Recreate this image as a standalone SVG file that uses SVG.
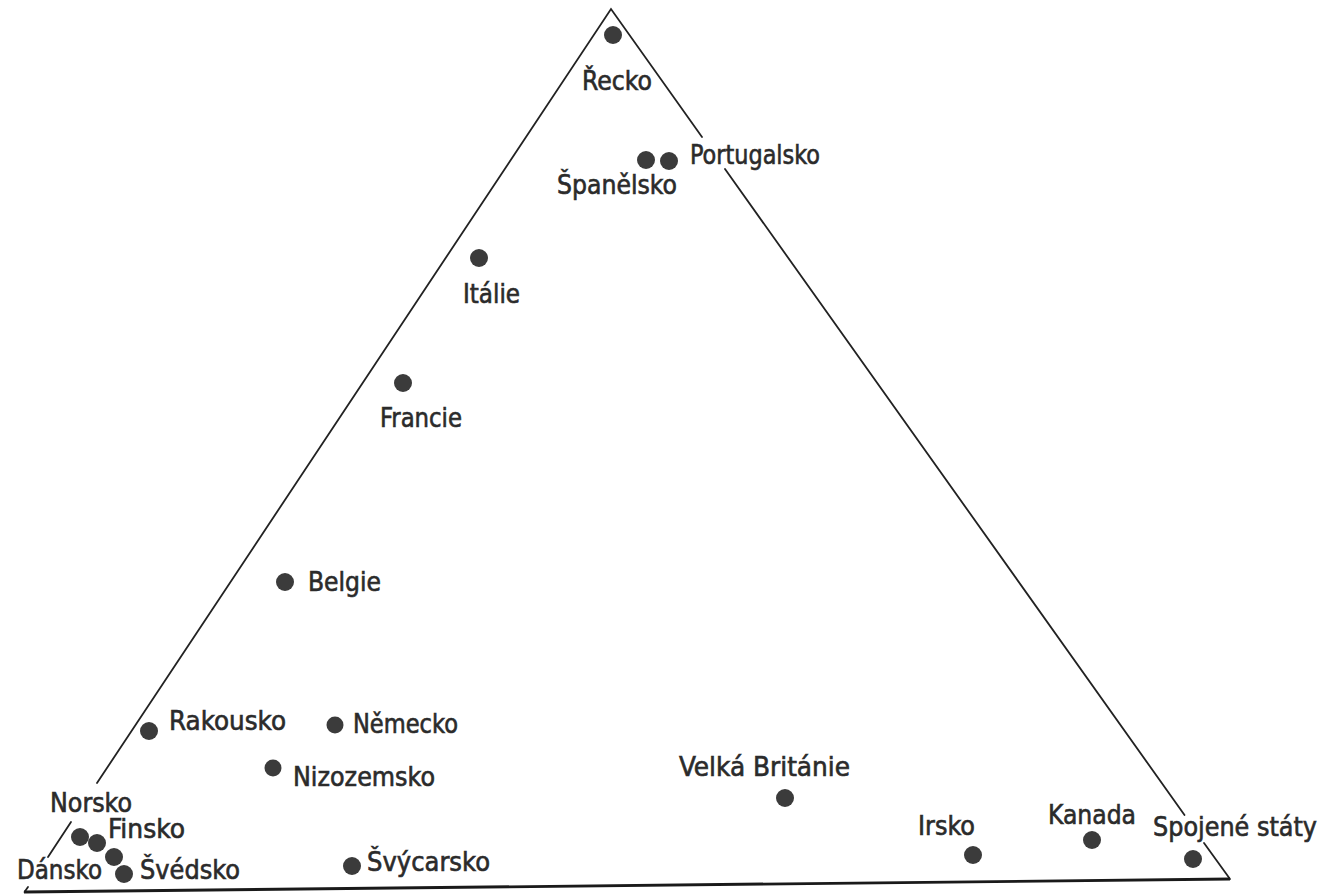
<svg xmlns="http://www.w3.org/2000/svg" width="1339" height="895" viewBox="0 0 1339 895">
<style>
.edge{stroke:#222;stroke-width:1.8;fill:none;stroke-linecap:round}
.base{stroke:#1a1a1a;stroke-width:2.8;fill:none}
.dot{fill:#3b3b3b}
.lbl{font-family:"DejaVu Sans Condensed","DejaVu Sans",sans-serif;font-stretch:condensed;font-size:27px;fill:#2b2b2b;stroke:#2b2b2b;stroke-width:0.6}
</style>
<rect width="1339" height="895" fill="#ffffff"/>
<g id="triangle">
<polyline class="edge" points="97,783 611,9 702,137"/>
<line class="edge" x1="71" y1="822" x2="48" y2="857"/>
<line class="edge" x1="28" y1="887" x2="24.5" y2="892"/>
<line class="edge" x1="725" y1="169" x2="1184.5" y2="815"/>
<line class="edge" x1="1204" y1="843" x2="1230" y2="879"/>
<line class="base" x1="24" y1="892" x2="1230" y2="879"/>
</g>
<g id="recko"><circle class="dot" cx="613" cy="35" r="9"/><text class="lbl" x="582" y="90" textLength="70" lengthAdjust="spacingAndGlyphs">Řecko</text></g>
<g id="spanelsko"><circle class="dot" cx="646" cy="160" r="9"/><text class="lbl" x="557" y="194" textLength="120" lengthAdjust="spacingAndGlyphs">Španělsko</text></g>
<g id="portugalsko"><circle class="dot" cx="669" cy="161" r="9"/><text class="lbl" x="690" y="164" textLength="130" lengthAdjust="spacingAndGlyphs">Portugalsko</text></g>
<g id="italie"><circle class="dot" cx="479" cy="258" r="9"/><text class="lbl" x="463" y="303" textLength="57" lengthAdjust="spacingAndGlyphs">Itálie</text></g>
<g id="francie"><circle class="dot" cx="403" cy="383" r="9"/><text class="lbl" x="380" y="427" textLength="82" lengthAdjust="spacingAndGlyphs">Francie</text></g>
<g id="belgie"><circle class="dot" cx="285" cy="582" r="9"/><text class="lbl" x="308" y="591" textLength="73" lengthAdjust="spacingAndGlyphs">Belgie</text></g>
<g id="rakousko"><circle class="dot" cx="149" cy="731" r="9"/><text class="lbl" x="169" y="730" textLength="117" lengthAdjust="spacingAndGlyphs">Rakousko</text></g>
<g id="nemecko"><circle class="dot" cx="335" cy="725" r="8.5"/><text class="lbl" x="353" y="733" textLength="105" lengthAdjust="spacingAndGlyphs">Německo</text></g>
<g id="nizozemsko"><circle class="dot" cx="273" cy="768" r="8.5"/><text class="lbl" x="293" y="786" textLength="142" lengthAdjust="spacingAndGlyphs">Nizozemsko</text></g>
<g id="svycarsko"><circle class="dot" cx="352" cy="866" r="9"/><text class="lbl" x="367" y="871" textLength="123" lengthAdjust="spacingAndGlyphs">Švýcarsko</text></g>
<g id="velka-britanie"><circle class="dot" cx="785" cy="798" r="9"/><text class="lbl" x="679" y="776" textLength="171" lengthAdjust="spacingAndGlyphs">Velká Británie</text></g>
<g id="irsko"><circle class="dot" cx="973" cy="855" r="9"/><text class="lbl" x="918" y="835" textLength="57" lengthAdjust="spacingAndGlyphs">Irsko</text></g>
<g id="kanada"><circle class="dot" cx="1092" cy="840" r="9"/><text class="lbl" x="1048" y="824" textLength="88" lengthAdjust="spacingAndGlyphs">Kanada</text></g>
<g id="spojene-staty"><circle class="dot" cx="1193" cy="859" r="9"/><text class="lbl" x="1153" y="836" textLength="164" lengthAdjust="spacingAndGlyphs">Spojené státy</text></g>
<g id="norsko"><circle class="dot" cx="80" cy="837" r="9"/><text class="lbl" x="50" y="812" textLength="82" lengthAdjust="spacingAndGlyphs">Norsko</text></g>
<g id="finsko"><circle class="dot" cx="97" cy="843" r="9"/><text class="lbl" x="108" y="838" textLength="77" lengthAdjust="spacingAndGlyphs">Finsko</text></g>
<g id="dansko"><circle class="dot" cx="114" cy="857" r="9"/><text class="lbl" x="17" y="879" textLength="85" lengthAdjust="spacingAndGlyphs">Dánsko</text></g>
<g id="svedsko"><circle class="dot" cx="124" cy="874" r="9"/><text class="lbl" x="140" y="879" textLength="100" lengthAdjust="spacingAndGlyphs">Švédsko</text></g>
</svg>
